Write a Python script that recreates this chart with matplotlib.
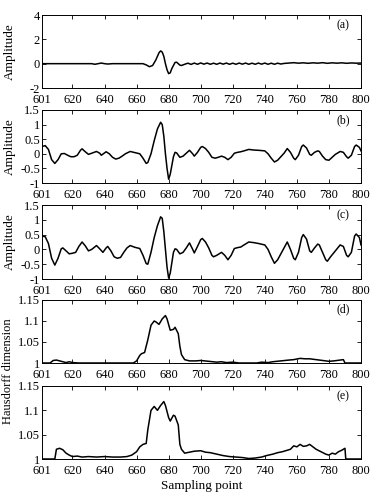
import matplotlib
matplotlib.use("Agg")
import matplotlib.pyplot as plt

plt.rcParams['font.family'] = ['Liberation Serif', 'DejaVu Serif']
plt.rcParams['font.size'] = 9

# ---- data ----
a_x = [601, 632, 634, 636, 638, 640, 642, 645, 664, 666, 668, 670, 672, 674, 675, 676, 677, 678, 679, 680,
       681, 682, 684, 685, 687, 688, 690, 692, 694, 696, 698, 700, 702, 704, 706, 708, 710, 712, 714, 716,
       718, 720, 722, 724, 726, 728, 730, 732, 734, 736, 738, 740, 742, 744, 746, 748, 750, 752, 755, 758,
       761, 764, 767, 770, 773, 776, 779, 782, 785, 788, 791, 794, 797, 800]
a_y = [0.0, 0.0, -0.05, 0.0, 0.05, 0.0, -0.03, 0.0, 0.0, -0.1, -0.25, -0.15, 0.3, 0.9, 1.05, 0.95, 0.6, 0.0,
       -0.5, -0.82, -0.75, -0.4, 0.1, 0.12, -0.12, -0.15, -0.05, 0.04, -0.06, 0.05, -0.05, 0.06, -0.04, 0.05,
       -0.05, 0.04, -0.05, 0.05, -0.04, 0.05, -0.05, 0.04, -0.05, 0.05, -0.04, 0.05, -0.05, 0.04, -0.05, 0.05,
       -0.04, 0.05, -0.05, 0.04, -0.05, 0.04, -0.03, 0.02, 0.05, 0.08, 0.04, 0.07, 0.03, 0.07, 0.04, 0.08,
       0.03, 0.07, 0.04, 0.07, 0.03, 0.06, 0.04, 0.05]

b_x = [601, 603, 605, 607, 609, 611, 613, 615, 617, 619, 621, 623, 625, 626, 628, 630, 632, 635, 637, 638,
       640, 641, 643, 645, 647, 649, 651, 653, 656, 659, 662, 664, 666, 667, 669, 671, 673, 675, 676, 677,
       678, 679, 680, 681, 683, 684, 685, 687, 689, 691, 693, 695, 696, 698, 700, 701, 703, 705, 707, 709,
       711, 713, 715, 717, 719, 721, 723, 725, 727, 730, 733, 736, 740, 742, 744, 746, 748, 750, 752, 754,
       756, 758, 759, 761, 763, 764, 766, 768, 769, 771, 773, 774, 776, 778, 780, 782, 784, 787, 789, 791,
       792, 794, 796, 797, 799, 800]
b_y = [0.25, 0.28, 0.15, -0.2, -0.33, -0.2, 0.0, 0.01, -0.05, -0.1, -0.1, -0.05, 0.12, 0.17, 0.07, -0.02,
       0.02, 0.08, 0.02, -0.05, 0.03, 0.07, 0.0, -0.12, -0.18, -0.15, -0.08, 0.0, 0.08, 0.04, 0.0, -0.15,
       -0.33, -0.3, 0.0, 0.45, 0.85, 1.08, 1.0, 0.6, 0.0, -0.5, -0.87, -0.7, -0.1, 0.05, 0.03, -0.12, -0.08,
       0.02, 0.12, 0.0, -0.08, 0.05, 0.22, 0.25, 0.18, 0.05, -0.12, -0.15, -0.12, -0.08, -0.12, -0.2, -0.12,
       0.02, 0.05, 0.07, 0.1, 0.15, 0.13, 0.12, 0.1, 0.0, -0.15, -0.28, -0.22, -0.1, 0.02, 0.18, 0.05, -0.15,
       -0.2, -0.05, 0.25, 0.3, 0.2, -0.02, -0.05, 0.05, 0.1, 0.08, -0.08, -0.2, -0.22, -0.12, -0.02, 0.08,
       0.05, -0.1, -0.15, -0.05, 0.25, 0.3, 0.22, 0.1]

c_x = [601, 603, 605, 607, 609, 611, 613, 614, 616, 618, 620, 622, 624, 626, 628, 630, 632, 635, 637, 639,
       641, 642, 644, 646, 648, 650, 652, 654, 656, 659, 662, 664, 666, 667, 669, 671, 673, 675, 676, 677,
       678, 679, 680, 681, 683, 684, 685, 687, 689, 691, 693, 695, 696, 698, 700, 701, 703, 705, 707, 708,
       710, 713, 715, 717, 719, 721, 723, 725, 727, 730, 733, 736, 740, 742, 744, 746, 748, 750, 752, 754,
       756, 758, 759, 761, 763, 764, 766, 768, 769, 771, 773, 774, 776, 778, 779, 781, 784, 787, 789, 791,
       792, 794, 796, 797, 799, 800]
c_y = [0.45, 0.43, 0.2, -0.3, -0.53, -0.3, 0.02, 0.05, -0.05, -0.15, -0.13, -0.1, 0.1, 0.25, 0.12, -0.05,
       0.0, 0.13, 0.02, -0.1, 0.05, 0.1, -0.05, -0.25, -0.3, -0.27, -0.1, 0.05, 0.13, 0.07, 0.03, -0.2, -0.48,
       -0.5, -0.1, 0.4, 0.8, 1.1, 1.05, 0.6, 0.0, -0.6, -0.97, -0.8, -0.1, 0.02, 0.0, -0.15, -0.1, 0.05, 0.22,
       0.0, -0.12, 0.1, 0.33, 0.37, 0.25, 0.05, -0.2, -0.25, -0.2, -0.1, -0.2, -0.35, -0.2, 0.03, 0.06, 0.08,
       0.15, 0.25, 0.23, 0.2, 0.15, 0.0, -0.25, -0.47, -0.35, -0.15, 0.05, 0.25, 0.0, -0.3, -0.35, -0.1, 0.4,
       0.5, 0.35, -0.05, -0.1, 0.05, 0.18, 0.15, -0.1, -0.35, -0.4, -0.25, -0.05, 0.15, 0.1, -0.2, -0.25, -0.1,
       0.45, 0.52, 0.4, 0.15]

d_x = [601, 606, 608, 610, 612, 614, 616, 618, 620, 624, 658, 660, 662, 663, 665, 667, 669, 671, 672, 674,
       676, 678, 679, 681, 683, 684, 686, 687, 688, 690, 693, 697, 700, 705, 710, 713, 716, 720, 724, 735,
       738, 742, 745, 750, 755, 758, 762, 765, 768, 772, 776, 780, 783, 787, 789, 790, 800]
d_y = [1.0, 1.0, 1.006, 1.007, 1.005, 1.003, 1.001, 1.003, 1.001, 1.0, 1.0, 1.005, 1.018, 1.022, 1.025,
       1.055, 1.09, 1.1, 1.098, 1.092, 1.105, 1.113, 1.105, 1.078, 1.08, 1.085, 1.07, 1.04, 1.02, 1.008,
       1.005, 1.005, 1.006, 1.004, 1.002, 1.003, 1.001, 1.002, 1.0, 1.0, 1.002, 1.001, 1.003, 1.005, 1.007,
       1.008, 1.011, 1.01, 1.01, 1.008, 1.006, 1.004, 1.005, 1.007, 1.008, 1.0, 1.0]

e_x = [601, 609, 610, 612, 614, 616, 618, 620, 623, 626, 630, 635, 640, 645, 650, 654, 657, 660, 662, 664,
       666, 667, 669, 671, 673, 675, 677, 678, 680, 681, 683, 684, 686, 687, 688, 690, 693, 696, 700, 703,
       706, 710, 714, 718, 722, 726, 730, 734, 738, 741, 745, 748, 751, 754, 756, 758, 760, 762, 764, 766,
       768, 770, 772, 775, 778, 780, 782, 784, 786, 788, 790, 790.5, 800]
e_y = [1.0, 1.0, 1.02, 1.022, 1.019, 1.012, 1.008, 1.005, 1.006, 1.004, 1.005, 1.004, 1.005, 1.004, 1.004,
       1.005, 1.008, 1.015, 1.025, 1.03, 1.032, 1.06, 1.1, 1.108, 1.1, 1.11, 1.118, 1.11, 1.085, 1.078, 1.09,
       1.088, 1.07, 1.03, 1.02, 1.012, 1.014, 1.016, 1.017, 1.014, 1.013, 1.01, 1.007, 1.005, 1.004, 1.003,
       1.001, 1.002, 1.004, 1.007, 1.01, 1.013, 1.015, 1.018, 1.02, 1.027, 1.025, 1.03, 1.026, 1.027, 1.03,
       1.025, 1.02, 1.015, 1.01, 1.008, 1.012, 1.01, 1.015, 1.018, 1.022, 1.0, 1.0]

x_ticks = [601, 620, 640, 660, 680, 700, 720, 740, 760, 780, 800]
amp_ticks = [-1, -0.5, 0, 0.5, 1, 1.5]
amp_labels = ['-1', '-0.5', '0', '0.5', '1', '1.5']
hd_ticks = [1, 1.05, 1.1, 1.15]
hd_labels = ['1', '1.05', '1.1', '1.15']
panel_tags = ['(a)', '(b)', '(c)', '(d)', '(e)']

W, H = 385, 496
fig = plt.figure(figsize=(W / 100, H / 100), dpi=100)

# pixel boxes (top, bottom)
boxes = [(15, 88), (110, 183), (205, 279), (300, 363), (386, 459)]
left_px, right_px = 42, 361

series = [(a_x, a_y), (b_x, b_y), (c_x, c_y), (d_x, d_y), (e_x, e_y)]
axes = []
for i, ((top, bot), (xs, ys)) in enumerate(zip(boxes, series)):
    ax = fig.add_axes([left_px / W, 1 - bot / H, (right_px - left_px) / W, (bot - top) / H])
    ax.plot(xs, ys, color='black', lw=1.1)
    ax.set_xlim(601, 800)
    ax.set_xticks(x_ticks)
    ax.set_xticklabels([str(t) for t in x_ticks])
    if i == 0:
        ax.set_ylim(-2, 4)
        ax.set_yticks([-2, 0, 2, 4])
        ax.set_yticklabels(['-2', '0', '2', '4'])
    elif i in (1, 2):
        ax.set_ylim(-1, 1.5)
        ax.set_yticks(amp_ticks)
        ax.set_yticklabels(amp_labels)
    else:
        ax.set_ylim(1, 1.15)
        ax.set_yticks(hd_ticks)
        ax.set_yticklabels(hd_labels)
    ax.tick_params(direction='in', top=True, right=True, length=3, width=0.6,
                   labelsize=9, colors='black')
    ax.tick_params(axis='x', pad=4.5)
    ax.tick_params(axis='y', pad=1.5)
    for s in ax.spines.values():
        s.set_linewidth(0.7)
    ax.text(0.965, 0.86, panel_tags[i], transform=ax.transAxes, ha='right', va='center', fontsize=8.5)
    axes.append(ax)

for i in range(3):
    top, bot = boxes[i]
    fig.text(10 / W, 1 - (top + bot) / 2 / H, 'Amplitude', rotation=90, ha='center', va='center', fontsize=9.5)

fig.text(8 / W, 1 - 371 / H, 'Hausdorff dimension', rotation=90, ha='center', va='center', fontsize=9)
fig.text((left_px + right_px) / 2 / W, 1 - 486 / H, 'Sampling point', ha='center', va='center', fontsize=9.5)

fig.savefig('out.png', dpi=100)
